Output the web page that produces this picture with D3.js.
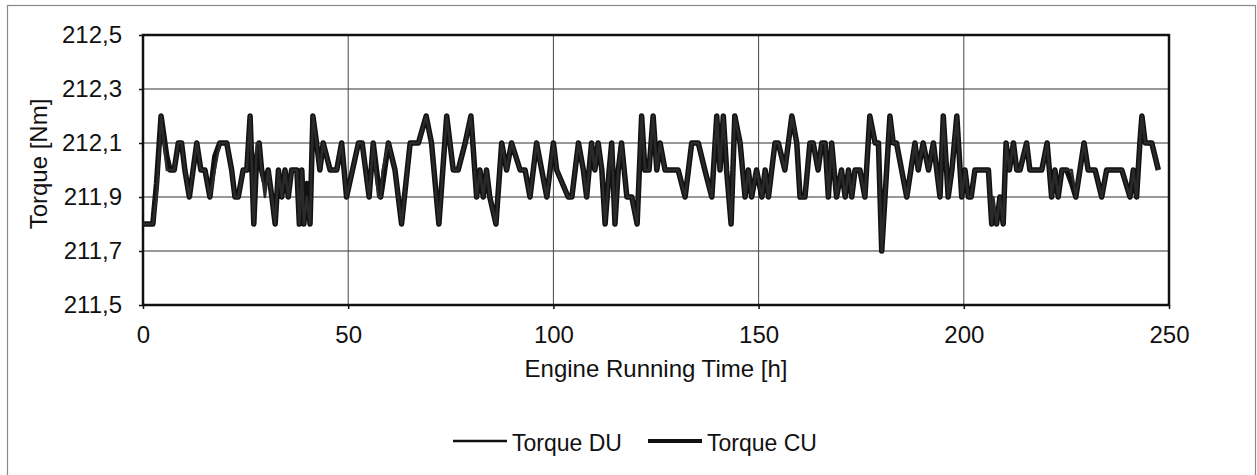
<!DOCTYPE html>
<html>
<head>
<meta charset="utf-8">
<script src="https://cdn.jsdelivr.net/npm/d3@7"></script>
<style>
body { margin:0; background:#fff; }
svg text { font-family: "Liberation Sans", Arial, sans-serif; fill:#111; }
</style>
</head>
<body>
<svg id="chart"></svg>
<script>

// engine running time [h]
var hours = [0,2.4,3.3,4.4,5.8,6.6,7.6,8.6,9.4,10.2,11.3,13.1,14.1,15.1,16.3,17.5,18.7,20.4,21.6,22.4,
    23.2,24.4,25.3,26.1,27.0,27.7,28.3,28.9,29.7,30.5,31.4,32.2,33.0,33.8,34.6,35.4,36.2,37.5,38.1,38.7,
    39.2,39.9,40.7,41.4,42.3,43.1,43.9,45.6,47.2,48.4,49.6,52.5,53.4,55.1,56.1,57.3,57.9,58.4,59.8,61.4,
    63.0,65.1,67.1,69.0,70.3,72.1,74.0,75.6,76.8,78.5,79.9,81.3,82.1,82.9,83.7,84.5,86.0,87.4,88.6,89.8,
    91.9,93.1,94.3,95.9,98.4,100.0,100.8,103.6,104.5,106.1,107.3,108.1,109.3,110.1,110.9,111.8,112.6,113.6,114.2,115.0,
    115.8,116.6,117.9,119.1,120.4,121.5,122.3,123.3,124.3,125.2,126.0,127.2,129.2,130.4,132.1,133.7,135.3,136.9,138.6,139.8,
    140.6,141.4,142.2,143.3,144.2,145.5,146.7,147.5,148.3,149.5,150.8,151.6,152.4,154.0,154.8,156.4,158.1,159.3,160.1,161.3,
    162.5,163.3,164.5,165.4,166.2,167.0,167.8,169.0,170.2,171.1,171.9,172.7,173.5,174.7,175.9,177.1,178.4,179.2,180.0,181.2,
    182.0,182.8,183.6,186.1,188.1,188.9,190.1,191.4,192.6,194.2,195.0,196.2,197.1,198.3,199.5,200.3,201.1,201.8,202.7,204.7,
    206.0,206.8,207.2,208.0,208.8,209.6,210.3,211.1,212.1,212.9,213.7,215.3,216.1,217.4,219.0,220.3,221.4,222.2,223.0,223.9,
    225.1,226.3,227.3,228.3,229.3,230.3,232.0,233.6,234.8,236.8,238.5,240.5,241.3,242.1,242.9,243.4,244.2,245.8,247.4];

// Torque CU [Nm]
var torqueCU = [211.8,211.8,211.95,212.2,212.05,212.0,212.0,212.1,212.1,212.0,211.9,212.1,212.0,212.0,211.9,212.05,212.1,212.1,212.0,211.9,
    211.9,212.0,212.0,212.2,211.8,212.05,212.1,212.0,211.95,212.0,211.9,211.8,212.0,211.9,212.0,211.9,212.0,212.0,211.8,212.0,
    211.8,211.95,211.8,212.2,212.1,212.0,212.1,212.0,212.0,212.1,211.9,212.1,212.1,211.9,212.1,211.95,211.9,211.95,212.1,212.0,
    211.8,212.1,212.1,212.2,212.1,211.8,212.2,212.0,212.0,212.1,212.2,211.9,212.0,211.9,212.0,211.9,211.8,212.1,212.0,212.1,
    212.0,212.0,211.9,212.1,211.9,212.1,212.0,211.9,211.9,212.1,212.0,211.9,212.1,212.0,212.1,212.0,211.8,212.0,212.1,211.8,
    212.0,212.1,211.9,211.9,211.8,212.2,212.0,212.0,212.2,212.0,212.1,212.0,212.0,212.0,211.9,212.1,212.1,212.0,211.9,212.2,
    212.0,212.2,212.0,211.8,212.2,212.1,211.9,212.0,211.9,212.0,211.9,212.0,211.9,212.1,212.1,212.0,212.2,212.1,211.9,211.9,
    212.1,212.1,212.0,212.1,212.1,211.9,212.1,211.9,212.0,211.9,212.0,211.9,212.0,212.0,211.9,212.2,212.1,212.1,211.7,212.0,
    212.2,212.1,212.1,211.9,212.1,212.0,212.1,212.0,212.1,211.9,212.2,211.9,212.0,212.2,211.9,212.0,211.9,211.9,212.0,212.0,
    212.0,211.8,211.85,211.8,211.9,211.8,212.1,212.0,212.1,212.0,212.0,212.1,212.0,212.0,212.0,212.1,211.9,212.0,211.9,212.0,
    212.0,211.95,211.9,212.0,212.1,212.0,212.0,211.9,212.0,212.0,212.0,211.9,212.0,211.9,212.1,212.2,212.1,212.1,212.0];

// Torque DU [Nm]
var torqueDU = [211.8,211.8,211.9,212.2,212.0,212.0,212.0,212.1,212.1,212.0,211.9,212.1,212.0,212.0,211.9,212.0,212.1,212.1,212.0,211.9,
    211.9,212.0,212.0,212.2,211.8,212.1,212.1,212.0,211.9,212.0,211.9,211.8,212.0,211.9,212.0,211.9,212.0,212.0,211.8,212.0,
    211.8,211.9,211.8,212.2,212.1,212.0,212.1,212.0,212.0,212.1,211.9,212.1,212.1,211.9,212.1,211.9,211.9,212.0,212.1,212.0,
    211.8,212.1,212.1,212.2,212.1,211.8,212.2,212.0,212.0,212.1,212.2,211.9,212.0,211.9,212.0,211.9,211.8,212.1,212.0,212.1,
    212.0,212.0,211.9,212.1,211.9,212.1,212.0,211.9,211.9,212.1,212.0,211.9,212.1,212.0,212.1,212.0,211.8,212.0,212.1,211.8,
    212.0,212.1,211.9,211.9,211.8,212.2,212.0,212.0,212.2,212.0,212.1,212.0,212.0,212.0,211.9,212.1,212.1,212.0,211.9,212.2,
    212.0,212.2,212.0,211.8,212.2,212.1,211.9,212.0,211.9,212.0,211.9,212.0,211.9,212.1,212.1,212.0,212.2,212.1,211.9,211.9,
    212.1,212.1,212.0,212.1,212.1,211.9,212.1,211.9,212.0,211.9,212.0,211.9,212.0,212.0,211.9,212.2,212.1,212.1,211.7,212.0,
    212.2,212.1,212.1,211.9,212.1,212.0,212.1,212.0,212.1,211.9,212.2,211.9,212.0,212.2,211.9,212.0,211.9,211.9,212.0,212.0,
    212.0,211.8,211.9,211.8,211.9,211.8,212.1,212.0,212.1,212.0,212.0,212.1,212.0,212.0,212.0,212.1,211.9,212.0,211.9,212.0,
    212.0,212.0,211.9,212.0,212.1,212.0,212.0,211.9,212.0,212.0,212.0,211.9,212.0,211.9,212.1,212.2,212.1,212.1,212.0];

var xTicks = [0,50,100,150,200,250];
var yTicks = [211.5,211.7,211.9,212.1,212.3,212.5];
var seriesNames = ["Torque DU","Torque CU"];

var width = 1257;
var height = 475;
var plot = {left:143, right:1169, top:35, bottom:305};

var svg = d3.select("#chart")
    .attr("width",width)
    .attr("height",height);

// outer frame
svg.append("rect")
    .attr("x",7.5).attr("y",5.5)
    .attr("width",1248).attr("height",480)
    .attr("fill","none")
    .attr("stroke","#888")
    .attr("stroke-width",1.2);

//scales
var xScale = d3.scaleLinear()
    .domain([0,250])
    .range([plot.left,plot.right]);

var yScale = d3.scaleLinear()
    .domain([211.5,212.5])
    .range([plot.bottom,plot.top]);

var fmt = function(v){ return d3.format(".1f")(v).replace(".",","); };

// grid lines
svg.selectAll("line.hgrid")
    .data(yTicks.slice(1,-1))
    .enter()
    .append("line")
    .attr("class","hgrid")
    .attr("x1",plot.left).attr("x2",plot.right)
    .attr("y1",function(d){return yScale(d)})
    .attr("y2",function(d){return yScale(d)})
    .attr("stroke","#333")
    .attr("stroke-width",1.2);

svg.selectAll("line.vgrid")
    .data(xTicks.slice(1,-1))
    .enter()
    .append("line")
    .attr("class","vgrid")
    .attr("x1",function(d){return xScale(d)})
    .attr("x2",function(d){return xScale(d)})
    .attr("y1",plot.top).attr("y2",plot.bottom)
    .attr("stroke","#444")
    .attr("stroke-width",1);

// axes
var yAxis = d3.axisLeft(yScale)
    .tickValues(yTicks)
    .tickSize(4)
    .tickPadding(17)
    .tickFormat(fmt);

var xAxis = d3.axisBottom(xScale)
    .tickValues(xTicks)
    .tickSize(4)
    .tickPadding(17);

var gy = svg.append("g")
    .attr("transform","translate("+plot.left+",0)")
    .call(yAxis);

var gx = svg.append("g")
    .attr("transform","translate(0,"+plot.bottom+")")
    .call(xAxis);

[gx,gy].forEach(function(g){
    g.select(".domain").remove();
    g.selectAll(".tick line").attr("stroke","#111").attr("stroke-width",1.5);
    g.selectAll(".tick text")
        .style("font-family","'Liberation Sans', Arial, sans-serif")
        .style("font-size","24px")
        .attr("fill","#111");
});

// plot frame
svg.append("rect")
    .attr("x",plot.left).attr("y",plot.top)
    .attr("width",plot.right-plot.left)
    .attr("height",plot.bottom-plot.top)
    .attr("fill","none")
    .attr("stroke","#111")
    .attr("stroke-width",2.5);

// lines
var cuData = hours.map(function(h,i){ return [h,torqueCU[i]]; });
var duData = hours.map(function(h,i){ return [h,torqueDU[i]]; });

var line = d3.line()
    .x(function(d){return xScale(d[0])})
    .y(function(d){return yScale(d[1])});

svg.append("path")
    .datum(cuData)
    .attr("d",line)
    .attr("fill","none")
    .attr("stroke","#111")
    .attr("stroke-width",5.5)
    .attr("stroke-linejoin","round");

svg.append("path")
    .datum(duData)
    .attr("d",line)
    .attr("fill","none")
    .attr("stroke","#2a2a2a")
    .attr("stroke-width",2.5)
    .attr("stroke-linejoin","round");

// axis titles
svg.append("text")
    .attr("x",(plot.left+plot.right)/2)
    .attr("y",377)
    .attr("text-anchor","middle")
    .style("font-size","24px")
    .text("Engine Running Time [h]");

svg.append("text")
    .attr("transform","translate(38,164) rotate(-90)")
    .attr("text-anchor","middle")
    .attr("dominant-baseline","central")
    .style("font-size","24px")
    .text("Torque [Nm]");

// legend
var legendX = [453,648];
var legend = svg.selectAll("g.legend")
    .data(seriesNames)
    .enter()
    .append("g")
    .attr("class","legend")
    .attr("transform",function(d,i){return "translate("+legendX[i]+",441)"});

legend.append("line")
    .attr("x1",0).attr("x2",54)
    .attr("y1",0).attr("y2",0)
    .attr("stroke","#111")
    .attr("stroke-width",function(d,i){return i==0 ? 2.5 : 4});

legend.append("text")
    .attr("x",59)
    .attr("y",10)
    .style("font-size","23px")
    .text(function(d){return d});

</script>
</body>
</html>
